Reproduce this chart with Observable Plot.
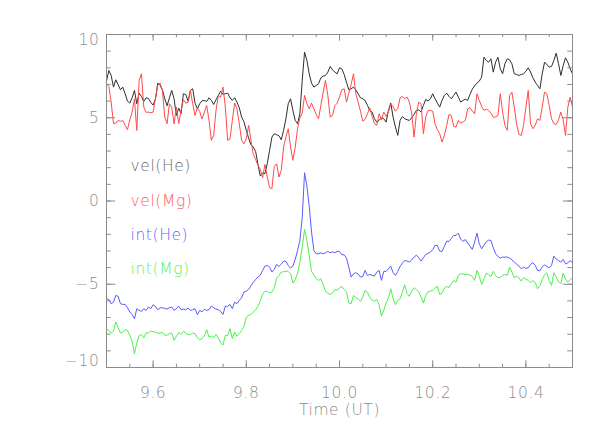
<!DOCTYPE html>
<html><head><meta charset="utf-8">
<script src="https://cdn.jsdelivr.net/npm/d3@7"></script>
<script src="https://cdn.jsdelivr.net/npm/@observablehq/plot@0.6"></script>
<style>body{margin:0;background:#fff;overflow:hidden} svg text{letter-spacing:0.6px}</style>
</head><body><div id="chart"></div>
<script>
// time grid: 9.5 UT to 10.5 UT, one sample every 0.005 h
const tStart = 9.5, tStep = 0.005;

const velHe = [7.2,7.84,7.54,6.84,7.28,6.98,6.68,6.84,6.44,6.0,
5.88,6.2,6.64,5.84,6.48,6.28,5.98,6.2,6.16,5.92,
5.76,6.12,7.08,6.94,6.68,6.14,5.72,6.2,6.64,6.14,
5.14,5.58,5.24,6.44,6.4,6.0,6.64,6.74,5.88,5.54,
5.84,6.02,6.04,5.98,6.2,6.04,5.8,6.08,6.34,6.6,
6.4,6.44,6.48,6.2,6.04,6.2,5.94,5.6,5.04,4.76,
4.24,3.78,3.38,3.24,2.98,2.2,1.5,1.68,1.64,2.24,
3.04,3.84,4.04,3.98,3.92,3.68,4.24,4.94,5.84,6.14,
5.44,4.84,4.64,5.24,7.24,8.94,8.44,7.64,7.08,6.84,
6.94,7.04,7.4,7.5,7.54,7.74,8.08,7.88,7.74,7.64,
8.0,7.94,7.6,7.14,6.68,6.74,6.84,6.68,6.44,6.2,
6.14,6.04,5.74,5.44,5.34,4.94,4.74,4.84,5.0,4.94,
4.74,5.44,5.88,5.04,4.44,3.94,4.84,5.08,4.94,4.88,
4.84,5.0,5.2,5.44,5.48,5.34,5.74,6.1,6.0,6.14,
6.44,6.14,5.88,5.64,6.04,6.34,6.48,6.28,6.14,6.34,
6.54,6.24,5.94,6.04,6.12,6.04,6.4,6.72,6.92,7.08,
7.2,7.44,8.64,8.44,8.34,8.54,7.74,8.34,8.64,7.94,
7.64,8.24,8.54,8.48,8.24,7.64,7.6,7.54,7.6,7.64,
7.8,8.0,7.74,7.4,7.14,6.94,6.74,7.64,8.34,8.2,
8.04,8.08,8.44,8.88,8.24,7.54,8.14,8.6,8.34,7.94,7.64];

const velMg = [7.04,6.88,5.94,4.64,4.68,4.84,4.78,4.84,4.54,4.28,
4.88,5.34,6.14,4.24,7.24,7.64,5.64,5.32,5.34,5.3,
5.34,6.14,6.94,7.08,6.64,5.04,4.64,5.84,5.64,4.64,
5.64,4.64,5.44,6.08,5.88,5.92,6.64,5.84,5.14,5.6,
5.38,4.92,5.34,5.74,4.84,3.64,3.94,5.44,6.34,6.24,
6.84,5.64,3.64,3.72,4.84,5.88,5.54,4.64,3.64,3.44,
3.74,4.54,3.64,2.8,2.5,2.14,1.9,1.4,2.2,1.44,
0.8,0.74,2.08,2.24,1.44,1.84,3.24,3.84,4.34,3.24,
2.44,3.24,4.34,5.0,5.28,6.34,5.84,5.54,5.88,5.54,
5.2,4.94,5.74,6.54,7.24,6.34,5.04,5.14,5.72,5.88,
6.24,6.68,6.74,5.94,6.48,7.0,7.64,6.44,5.94,5.4,
4.8,4.9,5.24,5.6,5.08,4.64,4.54,5.24,4.88,5.34,
5.08,5.34,5.8,5.68,5.4,5.54,6.2,6.28,6.14,6.24,
5.94,5.24,3.84,5.24,5.94,5.84,4.04,5.04,5.44,5.44,
5.4,4.64,4.28,4.04,3.54,3.94,4.54,5.2,5.14,4.48,
4.44,4.84,4.68,4.74,4.84,5.54,5.6,5.4,5.24,6.44,
6.04,5.68,5.44,5.52,5.44,5.28,5.04,5.04,5.14,6.44,
5.34,4.54,4.24,6.34,6.54,5.64,4.64,4.0,3.94,4.54,
5.64,6.64,4.64,4.34,4.54,4.94,4.84,5.64,6.54,6.44,
5.74,4.94,4.64,4.6,4.88,5.34,4.88,3.94,5.64,6.24,5.64];

const intHe = [-5.87,-5.91,-6.17,-6.07,-5.67,-5.73,-6.17,-6.21,-6.21,-6.41,
-6.67,-6.81,-7.07,-6.47,-6.57,-6.63,-6.47,-6.57,-6.37,-6.47,
-6.23,-6.33,-6.53,-6.41,-6.41,-6.45,-6.49,-6.41,-6.37,-6.57,
-6.47,-6.31,-6.53,-6.49,-6.53,-6.43,-6.57,-6.53,-6.47,-6.83,
-6.57,-6.65,-6.51,-6.57,-6.53,-6.31,-6.41,-6.49,-6.53,-6.63,
-6.81,-6.31,-6.33,-6.21,-6.47,-6.07,-6.17,-5.97,-5.81,-5.47,
-5.41,-5.31,-5.09,-4.89,-4.71,-4.57,-4.45,-4.17,-3.91,-3.87,
-3.97,-4.27,-4.11,-3.81,-3.93,-3.79,-3.61,-3.63,-3.87,-4.03,
-3.91,-3.51,-2.97,-2.37,-1.0,1.7,0.9,-0.3,-1.87,-2.97,
-3.17,-3.17,-3.11,-3.17,-3.11,-3.03,-3.11,-3.05,-3.11,-3.03,
-3.03,-3.23,-3.23,-3.43,-3.97,-4.57,-4.37,-4.31,-4.39,-4.57,
-4.53,-4.17,-4.47,-4.41,-4.47,-4.51,-4.27,-4.17,-4.77,-4.23,
-4.23,-4.07,-3.91,-4.31,-4.47,-4.23,-3.93,-3.73,-3.57,-3.61,
-3.67,-3.53,-3.37,-3.25,-3.41,-3.61,-3.41,-3.21,-3.15,-3.07,
-2.93,-2.67,-2.67,-3.01,-3.03,-2.73,-2.41,-2.43,-2.25,-2.07,
-2.07,-1.93,-2.29,-2.43,-2.31,-2.53,-2.71,-2.91,-2.47,-1.93,
-2.57,-2.87,-2.65,-2.45,-2.35,-2.37,-2.81,-3.17,-3.33,-3.43,
-3.37,-3.37,-3.37,-3.43,-3.53,-3.67,-3.79,-3.91,-4.07,-3.97,
-4.05,-4.01,-3.81,-3.71,-3.87,-4.17,-4.19,-3.97,-3.83,-3.93,
-4.01,-3.87,-3.31,-3.49,-3.59,-3.67,-3.51,-3.77,-3.71,-3.59,-3.69];

const intMg = [-7.67,-7.77,-7.93,-7.81,-7.27,-7.61,-7.93,-7.87,-7.73,-7.77,
-8.07,-8.41,-9.17,-8.53,-8.09,-8.01,-8.21,-7.91,-7.93,-7.81,
-7.85,-7.87,-7.93,-7.93,-7.89,-8.07,-8.05,-7.97,-7.93,-8.37,
-8.13,-7.89,-8.01,-7.83,-7.93,-8.03,-8.03,-7.93,-7.97,-8.21,
-8.33,-8.27,-8.09,-7.73,-8.17,-8.11,-8.21,-8.01,-8.21,-8.53,
-8.65,-8.07,-8.07,-7.67,-8.27,-7.87,-8.13,-7.97,-7.77,-7.53,
-6.97,-6.87,-6.81,-6.67,-6.53,-6.33,-6.0,-5.6,-5.41,-5.43,
-5.51,-5.47,-5.23,-4.63,-4.49,-4.27,-4.25,-4.21,-4.23,-4.37,
-4.93,-4.71,-4.37,-3.67,-2.77,-1.7,-2.37,-3.27,-4.23,-4.45,
-4.67,-4.77,-4.67,-5.03,-5.43,-5.53,-5.63,-5.51,-5.31,-5.35,
-5.23,-5.13,-5.31,-5.47,-6.13,-6.17,-5.67,-5.79,-5.89,-6.03,
-5.75,-5.37,-5.47,-5.79,-5.95,-6.01,-5.91,-6.23,-6.91,-6.57,
-6.11,-5.83,-5.27,-5.87,-6.23,-5.97,-5.87,-5.47,-5.03,-5.55,
-5.73,-5.41,-5.21,-5.33,-5.45,-5.77,-6.13,-5.67,-5.45,-5.41,
-5.37,-5.21,-5.13,-5.61,-5.53,-5.23,-5.13,-5.21,-4.97,-4.77,
-4.87,-4.47,-4.37,-4.39,-4.41,-4.41,-4.45,-4.53,-4.77,-4.17,
-4.53,-5.01,-4.67,-4.33,-4.43,-4.53,-4.23,-4.47,-4.61,-4.59,
-4.47,-4.41,-4.47,-3.97,-4.27,-4.61,-4.51,-4.61,-4.81,-4.61,
-4.69,-4.77,-4.91,-4.77,-4.89,-5.27,-5.09,-4.73,-4.43,-4.31,
-4.77,-5.07,-4.31,-4.57,-4.85,-4.97,-4.33,-4.69,-4.87,-4.73,-4.59];

const seriesNames = ["vel(He)", "vel(Mg)", "int(He)", "int(Mg)"];
const xMajor = [9.6, 9.8, 10.0, 10.2, 10.4];
const xTickLabels = ["9.6", "9.8", "10.0", "10.2", "10.4"];
const yMajor = [-10, -5, 0, 5, 10];
const yTickLabels = ["\u221210", "\u22125", "0", "5", "10"];
const xTitle = "Time (UT)";

// ---- presentation ----
const W = 605, H = 436;
const mL = 106, mR = 33, mT = 34, mB = 69;
const fw = W - mL - mR, fh = H - mT - mB;
const axisColor = "#8c8c8c";
const colors = ["#2e2e2e", "#ff4a4a", "#5a5aff", "#4cf04c"];
const textColors = ["#6a6a6a", "#ff5a5a", "#6464ff", "#5cf05c"];
const font = "DejaVu Sans";
const fs = 15.5;

const xMinor = d3.range(9.5, 10.5001, 0.05).map(v => +v.toFixed(2));
const yMinor = d3.range(-10, 10.0001, 1);
const time = velHe.map((_, i) => tStart + i * tStep);
const series = [velHe, velMg, intHe, intMg];

const marks = [];
series.forEach((s, k) => {
  marks.push(Plot.line(s, {x: (d, i) => time[i], y: d => d, stroke: colors[k], strokeWidth: 1}));
});
marks.push(Plot.frame({stroke: axisColor, strokeWidth: 1}));
const xMajLen = 6.7, xMinLen = 3.3, yMajLen = 9.3, yMinLen = 4.7;
marks.push(Plot.tickX(xMajor, {x: d => d, insetTop: fh - xMajLen, stroke: axisColor}));
marks.push(Plot.tickX(xMinor, {x: d => d, insetTop: fh - xMinLen, stroke: axisColor}));
marks.push(Plot.tickX(xMajor, {x: d => d, insetBottom: fh - xMajLen, stroke: axisColor}));
marks.push(Plot.tickX(xMinor, {x: d => d, insetBottom: fh - xMinLen, stroke: axisColor}));
marks.push(Plot.tickY(yMajor, {y: d => d, insetRight: fw - yMajLen, stroke: axisColor}));
marks.push(Plot.tickY(yMinor, {y: d => d, insetRight: fw - yMinLen, stroke: axisColor}));
marks.push(Plot.tickY(yMajor, {y: d => d, insetLeft: fw - yMajLen, stroke: axisColor}));
marks.push(Plot.tickY(yMinor, {y: d => d, insetLeft: fw - yMinLen, stroke: axisColor}));
marks.push(Plot.text(xMajor, {x: d => d, text: (d, i) => xTickLabels[i], frameAnchor: "bottom", dy: 30,
  fill: axisColor, fontSize: fs, fontFamily: font}));
const yIdx = yMajor.map((_, i) => i);
const yLab = (sel, dy) => Plot.text(sel, {y: i => yMajor[i], text: i => yTickLabels[i], frameAnchor: "left",
  textAnchor: "end", dx: -7, dy, fill: axisColor, fontSize: fs, fontFamily: font});
marks.push(yLab(yIdx.filter(i => i > 0 && i < yMajor.length - 1), 0));
marks.push(yLab([yMajor.length - 1], 6));
marks.push(yLab([0], -6));
marks.push(Plot.text([xTitle], {frameAnchor: "bottom", dy: 47, fill: axisColor, fontSize: fs, fontFamily: font}));
const legendDy = [125, 160, 194, 228];
seriesNames.forEach((name, k) => {
  marks.push(Plot.text([name], {frameAnchor: "top-left", dx: 24, dy: legendDy[k], textAnchor: "start",
    fill: textColors[k], fontSize: fs, fontFamily: font}));
});

const chart = Plot.plot({
  width: W, height: H,
  marginLeft: mL, marginRight: mR, marginTop: mT, marginBottom: mB,
  x: {domain: [9.5, 10.5], axis: null},
  y: {domain: [-10, 10], axis: null},
  style: {background: "#fff", fontFamily: font, fontWeight: 200},
  marks
});
document.getElementById("chart").appendChild(chart);
</script>
</body></html>
